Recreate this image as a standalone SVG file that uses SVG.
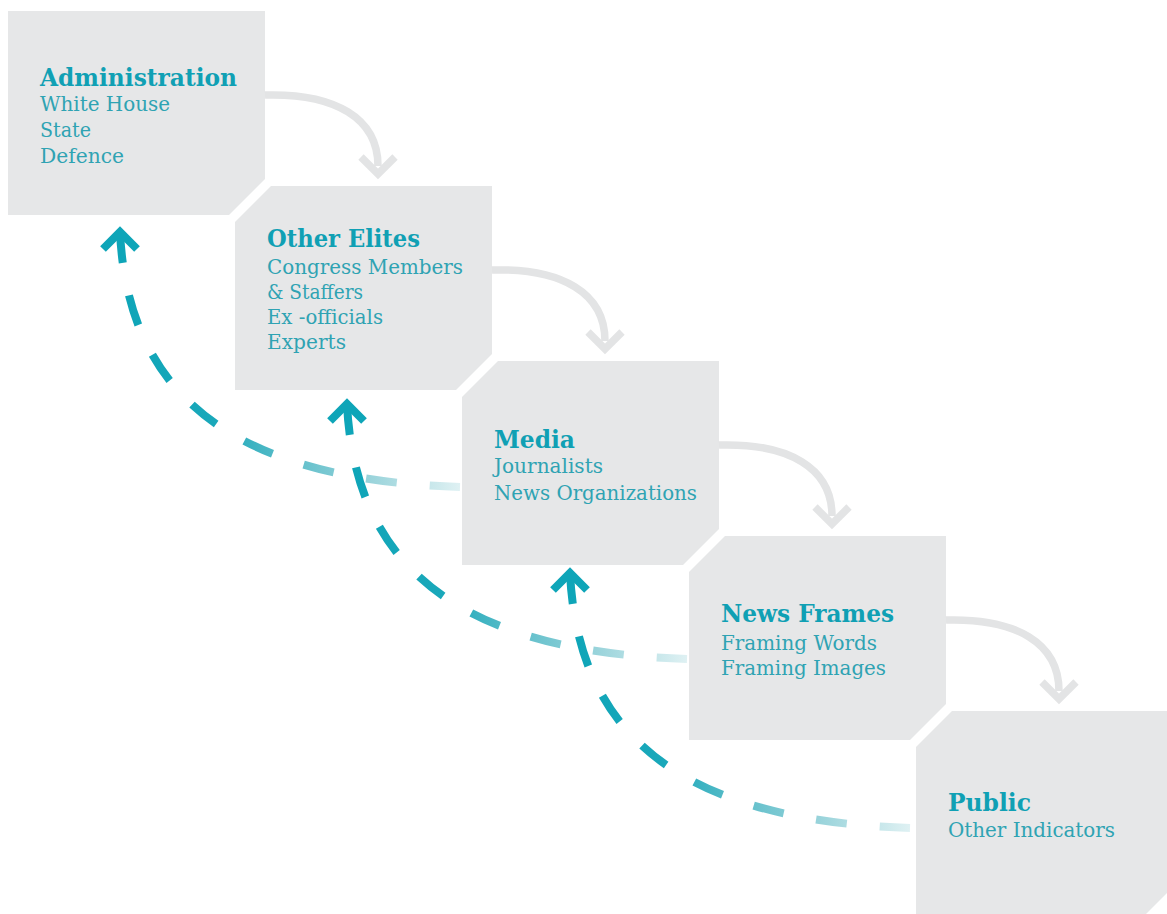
<svg xmlns="http://www.w3.org/2000/svg" width="1167" height="914" viewBox="0 0 1167 914">
  <defs>
    <linearGradient id="fade" x1="0" y1="0" x2="1" y2="0">
      <stop offset="0" stop-color="#0ea5b8"/>
      <stop offset="0.28" stop-color="#1aa8ba"/>
      <stop offset="0.45" stop-color="#50b9c6"/>
      <stop offset="0.75" stop-color="#9dd5dc"/>
      <stop offset="1" stop-color="#dff1f3"/>
    </linearGradient>
  </defs>
  <style>
    .box { fill: #e6e7e8; }
    .title { font-family: "DejaVu Serif", serif; font-weight: bold; font-size: 24px; fill: #10a0b4; }
    .body { font-family: "DejaVu Serif", serif; font-size: 20px; fill: #2fa3b3; }
    .flow { fill: none; stroke: #e3e4e5; stroke-width: 7.5; }
    .dash { fill: none; stroke: url(#fade); stroke-width: 8; stroke-dasharray: 31 33; }
    .head { fill: none; stroke: #0ea5b8; stroke-width: 8; stroke-linejoin: miter; }
  </style>
  <rect width="1167" height="914" fill="#ffffff"/>

  <g id="administration">
    <polygon class="box" points="8,11 265,11 265,179 229,215 8,215"/>
    <text class="title" x="40" y="86" textLength="197" lengthAdjust="spacingAndGlyphs">Administration</text>
    <text class="body" x="40" y="111" textLength="130" lengthAdjust="spacingAndGlyphs">White House</text>
    <text class="body" x="40" y="137" textLength="51" lengthAdjust="spacingAndGlyphs">State</text>
    <text class="body" x="40" y="163" textLength="84" lengthAdjust="spacingAndGlyphs">Defence</text>
  </g>

  <g id="other-elites">
    <polygon class="box" points="235,222 271,186 492,186 492,354 456,390 235,390"/>
    <text class="title" x="267" y="247" textLength="153" lengthAdjust="spacingAndGlyphs">Other Elites</text>
    <text class="body" x="267" y="274" textLength="196" lengthAdjust="spacingAndGlyphs">Congress Members</text>
    <text class="body" x="267" y="299" textLength="96" lengthAdjust="spacingAndGlyphs">&amp; Staffers</text>
    <text class="body" x="267" y="324" textLength="116" lengthAdjust="spacingAndGlyphs">Ex -officials</text>
    <text class="body" x="267" y="349" textLength="79" lengthAdjust="spacingAndGlyphs">Experts</text>
  </g>

  <g id="media">
    <polygon class="box" points="462,397 498,361 719,361 719,529 683,565 462,565"/>
    <text class="title" x="494" y="448" textLength="81" lengthAdjust="spacingAndGlyphs">Media</text>
    <text class="body" x="494" y="473" textLength="109" lengthAdjust="spacingAndGlyphs">Journalists</text>
    <text class="body" x="494" y="500" textLength="203" lengthAdjust="spacingAndGlyphs">News Organizations</text>
  </g>

  <g id="news-frames">
    <polygon class="box" points="689,572 725,536 946,536 946,704 910,740 689,740"/>
    <text class="title" x="721" y="622" textLength="173" lengthAdjust="spacingAndGlyphs">News Frames</text>
    <text class="body" x="721" y="650" textLength="156" lengthAdjust="spacingAndGlyphs">Framing Words</text>
    <text class="body" x="721" y="675" textLength="165" lengthAdjust="spacingAndGlyphs">Framing Images</text>
  </g>

  <g id="public">
    <polygon class="box" points="916,747 952,711 1167,711 1167,893 1146,914 916,914"/>
    <text class="title" x="948" y="811" textLength="83" lengthAdjust="spacingAndGlyphs">Public</text>
    <text class="body" x="948" y="837" textLength="167" lengthAdjust="spacingAndGlyphs">Other Indicators</text>
  </g>

  <g id="connectors">
    <path class="flow" d="M265,95 C335,93 378,118 378,166"/>
    <path class="flow" d="M361,157 L378,174 L395,157"/>
    <path class="flow" d="M492,270 C562,268 605,293 605,341"/>
    <path class="flow" d="M588,332 L605,349 L622,332"/>
    <path class="flow" d="M719,445 C789,443 832,468 832,516"/>
    <path class="flow" d="M815,507 L832,524 L849,507"/>
    <path class="flow" d="M946,620 C1016,618 1059,643 1059,691"/>
    <path class="flow" d="M1042,682 L1059,699 L1076,682"/>

    <path class="dash" d="M120,232 C128,400 240,480 460,487"/>
    <path class="head" d="M103,249 L120,232 L137,249"/>
    <path class="dash" d="M347,404 C355,572 467,652 687,659"/>
    <path class="head" d="M330,421 L347,404 L364,421"/>
    <path class="dash" d="M570,573 C578,741 690,821 910,828"/>
    <path class="head" d="M553,590 L570,573 L587,590"/>
  </g>
</svg>
